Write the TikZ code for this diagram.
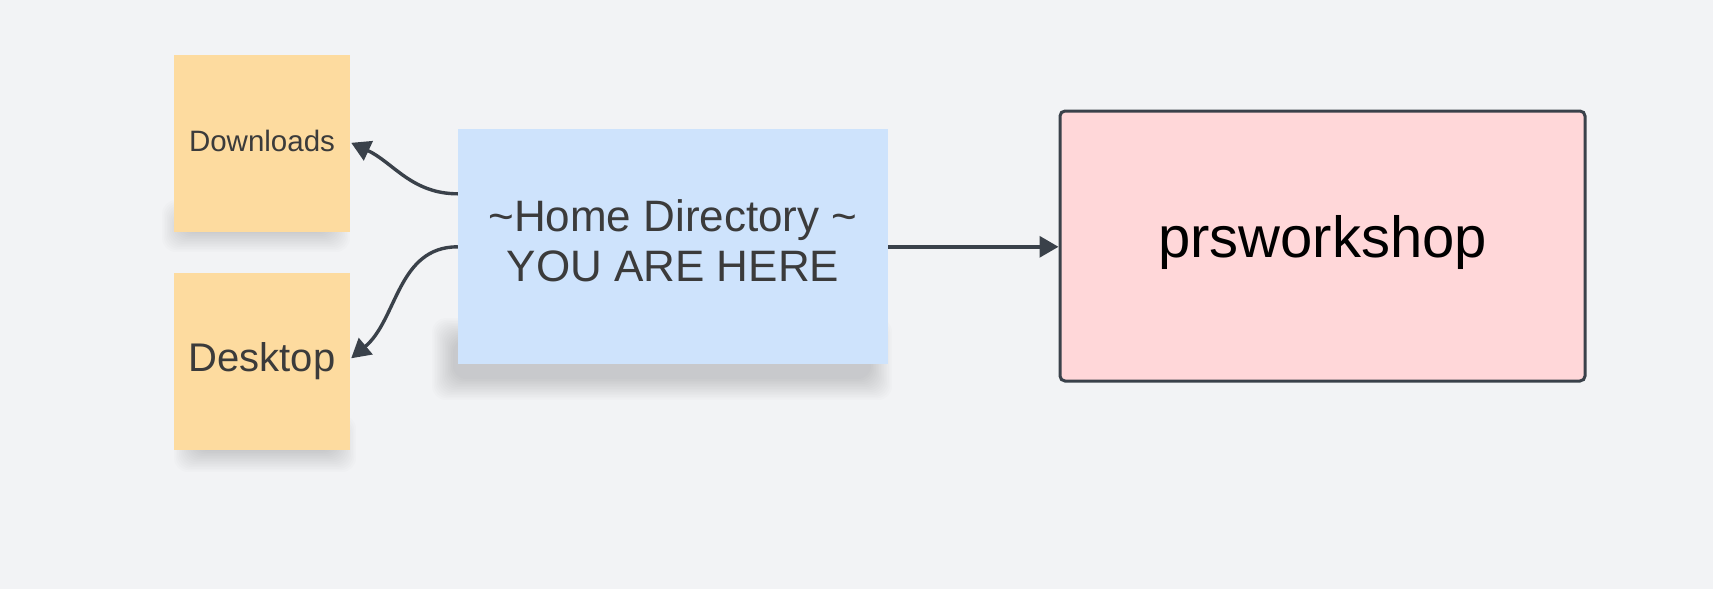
\documentclass[tikz,border=0pt]{standalone}
\usepackage{fontspec}
\setmainfont{Liberation Sans}
\usetikzlibrary{arrows.meta,calc}
\definecolor{bgc}{HTML}{F2F3F5}
\definecolor{stickyc}{HTML}{FDDB9F}
\definecolor{bluec}{HTML}{CEE3FC}
\definecolor{pinkc}{HTML}{FFD7D9}
\definecolor{linec}{HTML}{3A414A}
\definecolor{textc}{HTML}{3B3B3B}
\pgfdeclarelayer{shadowlayer}
\pgfsetlayers{shadowlayer,main}
\newcommand{\mysoftshadow}[4]{%
  \foreach \i in {0,...,13}{%
    \fill[black!85!blue, opacity=0.012, rounded corners=14pt]
      ({#1+\i*1.6},{#2+\i*1.6}) rectangle ({#3-\i*1.6},{#4-\i*1.6});
  }%
}
\tikzset{
  sticky/.style={fill=stickyc, minimum width=176pt, minimum height=177pt, inner sep=0pt, text=textc},
  homebox/.style={fill=bluec, minimum width=430pt, minimum height=235pt, inner sep=0pt, text=textc, align=center},
  pinkbox/.style={fill=pinkc, draw=linec, line width=3pt, rounded corners=5pt, minimum width=525pt, minimum height=270pt, inner sep=0pt, text=black},
  conn/.style={draw=linec, line width=3.4pt, -{Triangle[length=19pt,width=21pt]}}
}
\begin{document}
\begin{tikzpicture}[x=1pt,y=-1pt]
\useasboundingbox (0,0) rectangle (1713,589);
\begin{pgfonlayer}{shadowlayer}
\fill[bgc] (0,0) rectangle (1713,589);
\mysoftshadow{162}{200}{350}{252}
\mysoftshadow{174}{415}{356}{472}
\mysoftshadow{432}{318}{892}{400}
\end{pgfonlayer}
\node[sticky, font=\fontsize{29.5}{34}\selectfont] (dl) at (262,143.5) {\raisebox{6pt}{Downloads}};
\node[sticky, font=\fontsize{40}{46}\selectfont] (dt) at (262,361) {\raisebox{4pt}{Desktop}};
\node[homebox, font=\fontsize{44}{52}\selectfont] (home) at (673,246.5) {\raisebox{5pt}{\begin{tabular}{@{}c@{}}\textasciitilde Home Directory \textasciitilde\\[-2pt]YOU ARE HERE\end{tabular}}};
\node[pinkbox, font=\fontsize{58}{66}\selectfont, text depth=20pt] (pr) at (1322.5,246) {prsworkshop};
\coordinate (h1) at ($(home.north west)+(0,65)$);
\coordinate (h2) at ($(home.north west)+(0,118)$);
\coordinate (d1) at ($(dl.north east)+(1,88)$);
\coordinate (d2) at ($(dt.north east)+(1,86)$);
\draw[conn] (h1) to[out=180,in=-25] (d1);
\draw[conn] (h2) to[out=180,in=40] (d2);
\draw[conn] (home.east |- h2) -- (pr.west |- h2);
\end{tikzpicture}
\end{document}
